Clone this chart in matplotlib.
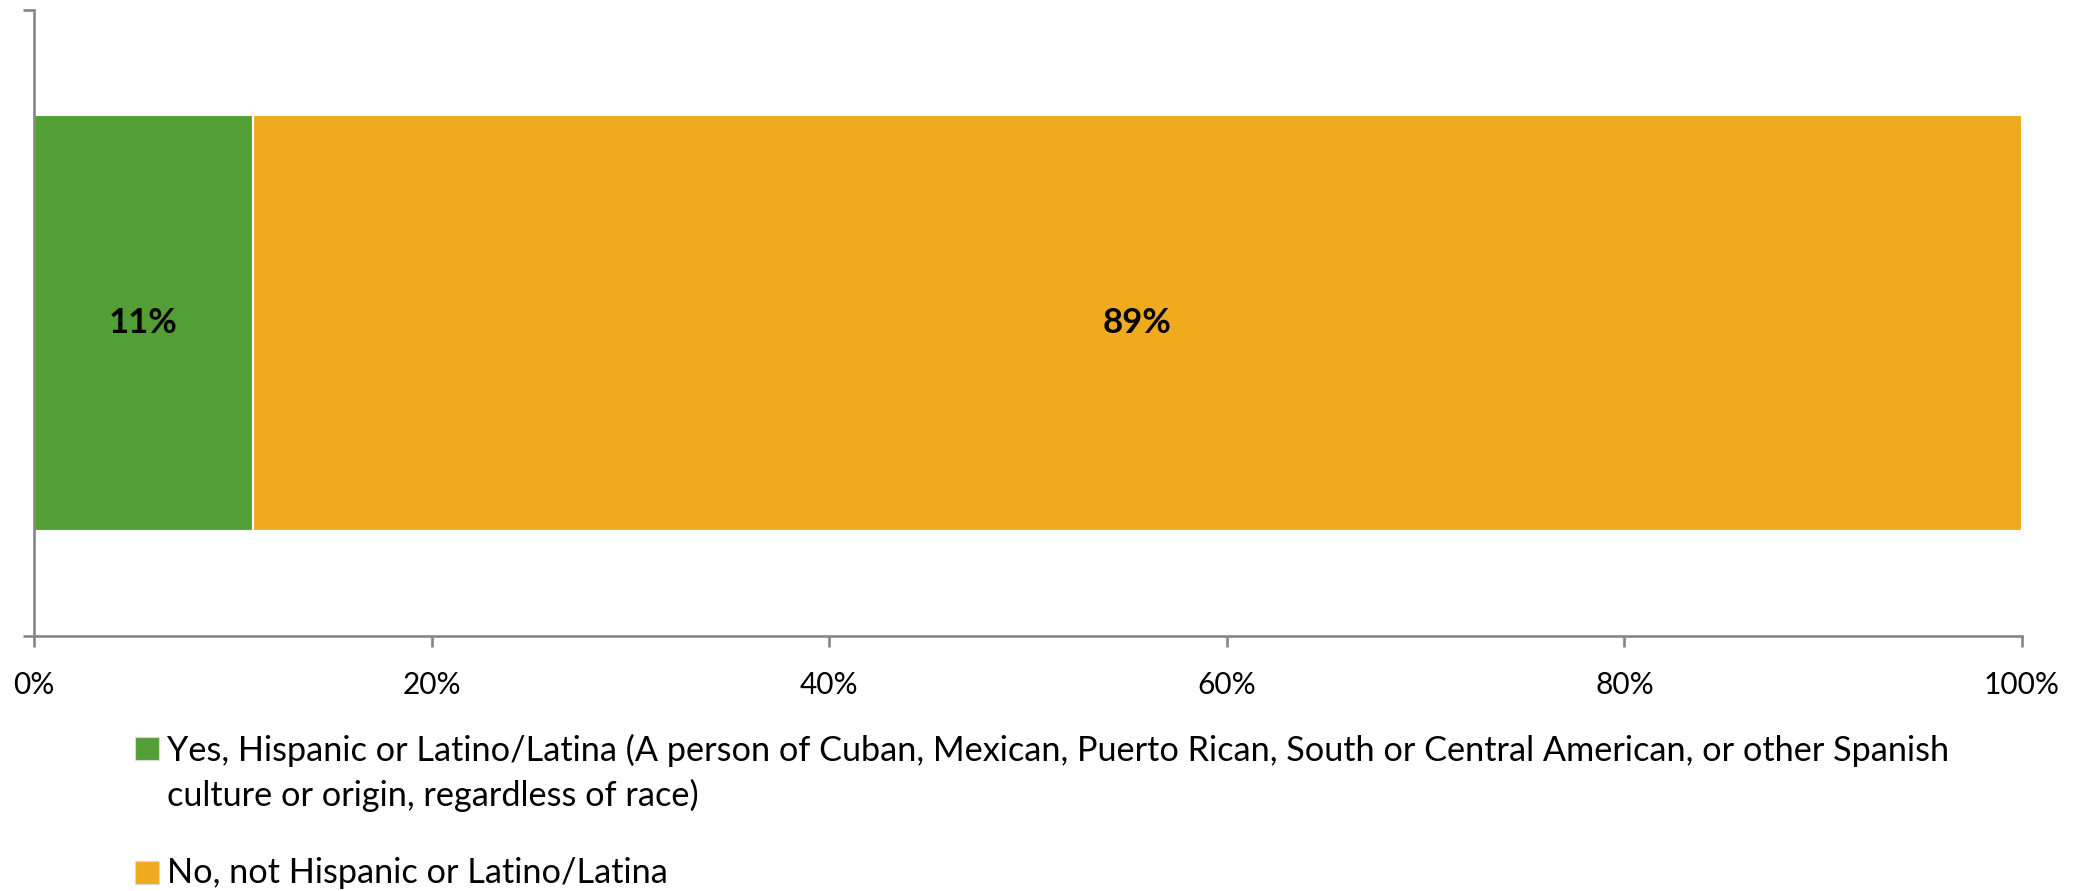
import matplotlib
matplotlib.use('Agg')
import matplotlib.pyplot as plt
from matplotlib.patches import Rectangle

plt.rcParams['font.family'] = ['Lato', 'DejaVu Sans']

# dados
categorias = [['Yes, Hispanic or Latino/Latina (A person of Cuban, Mexican, Puerto Rican, South or Central American, or other Spanish',
               'culture or origin, regardless of race)'],
              ['No, not Hispanic or Latino/Latina']]
valores = [0.11, 0.89]
rotulos = ['11%', '89%']
cores = ['#529F36', '#F0AA1E']
ticks_x = [0, 0.2, 0.4, 0.6, 0.8, 1.0]
ticks_label = ['0%', '20%', '40%', '60%', '80%', '100%']

fig = plt.figure(figsize=(20.84, 8.91), dpi=100)
ax = fig.add_axes([34/2084, 1 - 636/891, (2022 - 34)/2084, (636 - 10)/891])

esquerda = 0
for v, c, r in zip(valores, cores, rotulos):
    ax.barh(0, v, left=esquerda, height=0.665, color=c, edgecolor='white', linewidth=1.5)
    ax.text(esquerda + v / 2, 0, r, ha='center', va='center', fontsize=25, fontweight='bold')
    esquerda += v

ax.set_xlim(0, 1)
ax.set_ylim(-0.5, 0.5)
ax.set_xticks(ticks_x)
ax.set_xticklabels(ticks_label, fontsize=21.5)
ax.set_yticks([-0.5, 0.5])
ax.set_yticklabels([])
ax.tick_params(axis='both', direction='out', length=8, width=1.9, color='#868686', pad=17)
for lado in ['top', 'right']:
    ax.spines[lado].set_visible(False)
for lado in ['left', 'bottom']:
    ax.spines[lado].set_color('#868686')
    ax.spines[lado].set_linewidth(1.9)

# legenda manual (cada linha com sua baseline)
quadrados = [737, 861]
baselines = [[761, 806], [883]]
for topo, bases, c, linhas in zip(quadrados, baselines, cores, categorias):
    fig.add_artist(Rectangle((135/2084, 1 - (topo + 23)/891), 24/2084, 23/891,
                             transform=fig.transFigure, facecolor=c, edgecolor='#d9d9d9', linewidth=0.8))
    for b, linha in zip(bases, linhas):
        fig.text(167/2084, 1 - b/891, linha, fontsize=24.7, ha='left', va='baseline')

fig.savefig('out.png', dpi=100)
